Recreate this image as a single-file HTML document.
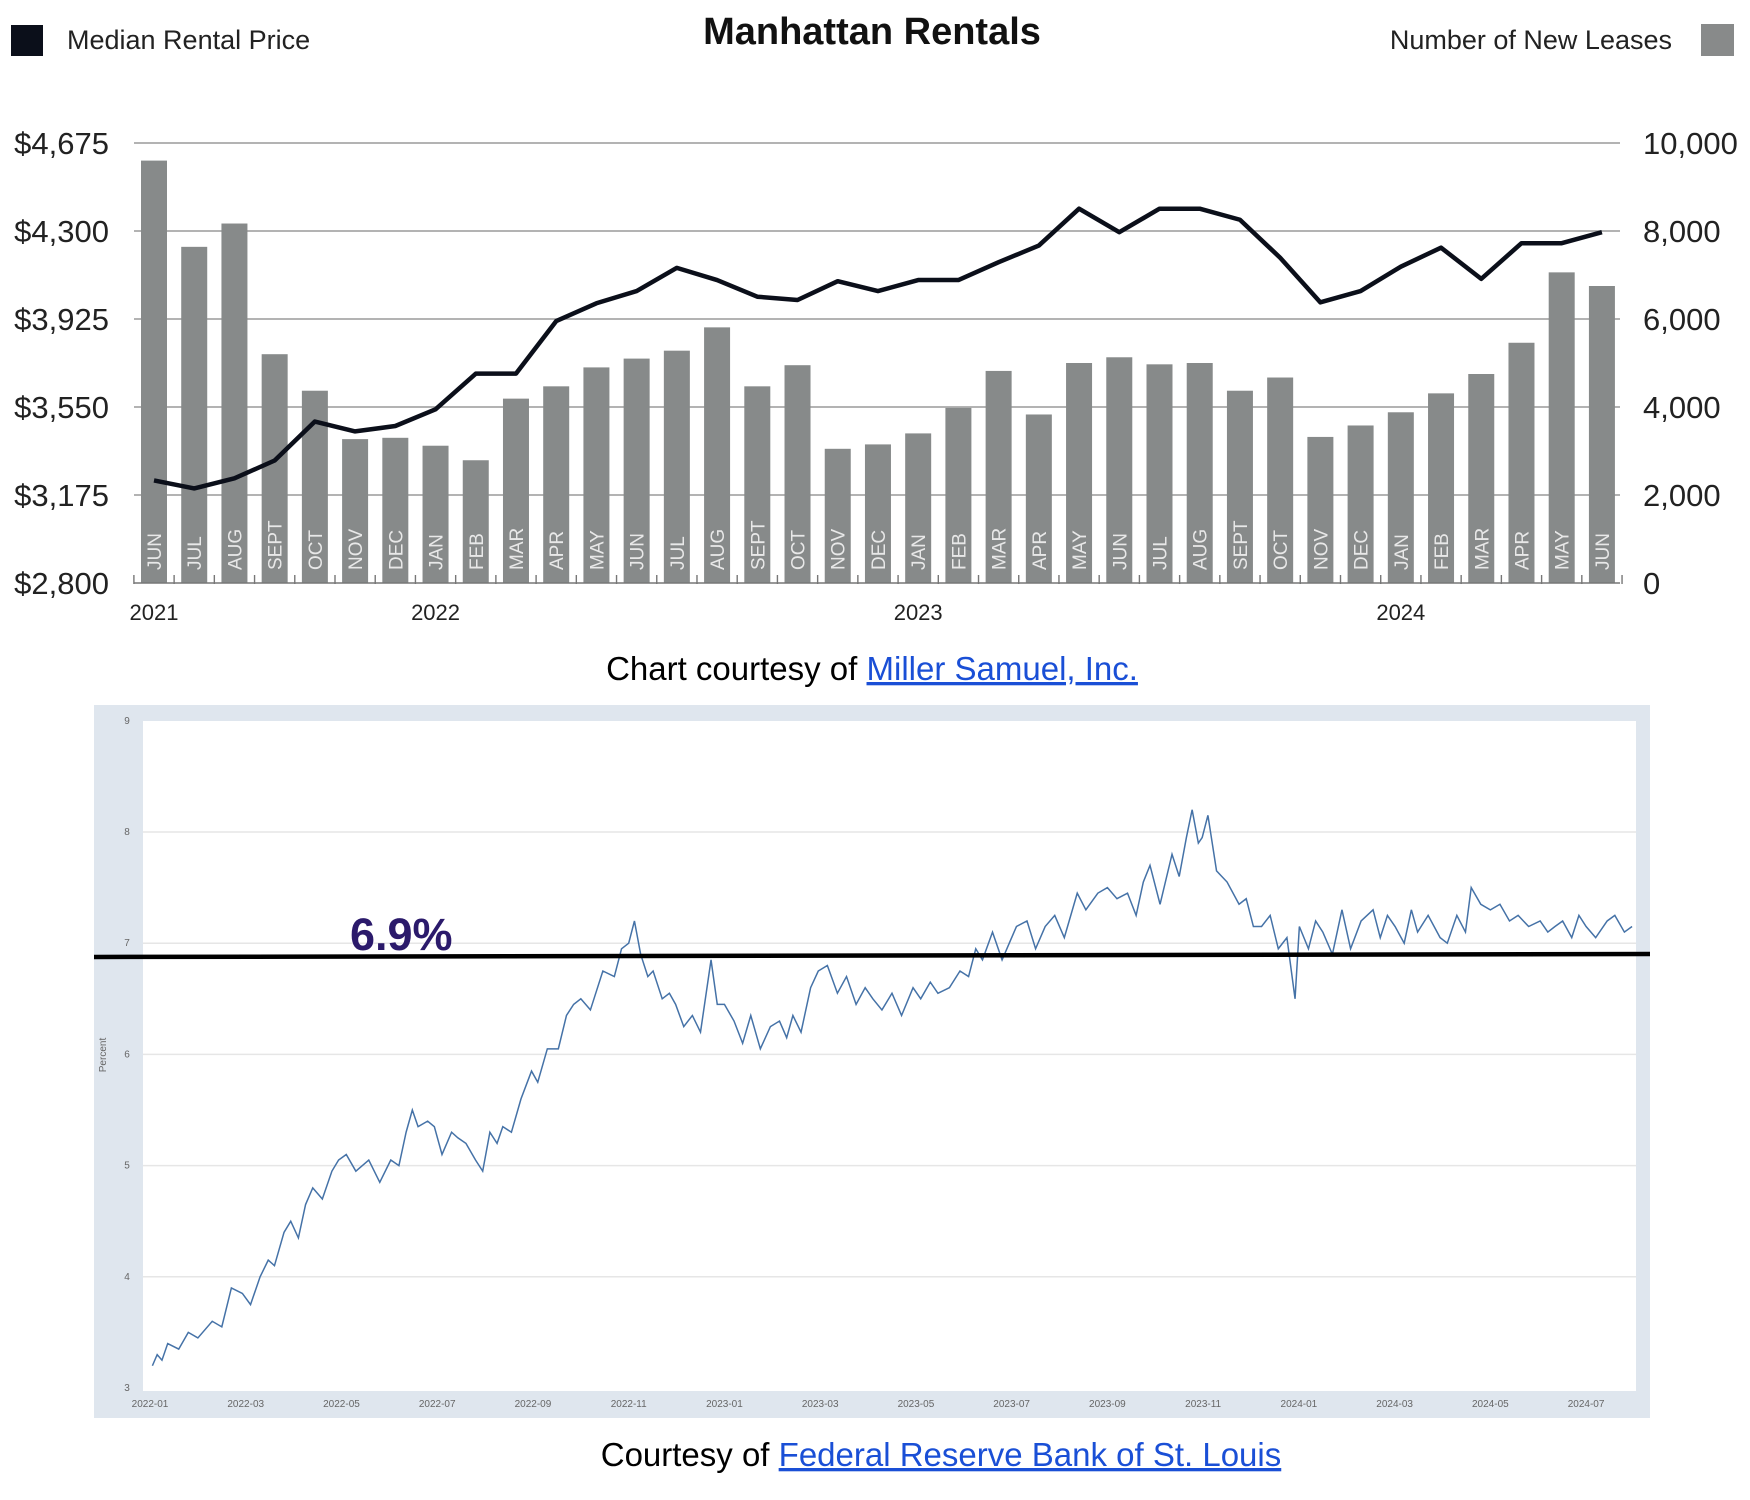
<!DOCTYPE html>
<html><head><meta charset="utf-8"><style>
html,body{margin:0;padding:0;background:#fff;}
svg{display:block;font-family:"Liberation Sans",sans-serif;}
</style></head><body>
<svg id="root" width="1750" height="1500" viewBox="0 0 1750 1500" xmlns="http://www.w3.org/2000/svg">
<g id="top">
  <rect x="11" y="25" width="32" height="31" fill="#0b0f1a"/>
  <text x="67" y="49" font-size="27" fill="#222">Median Rental Price</text>
  <text x="872" y="44" font-size="38" font-weight="bold" text-anchor="middle" fill="#111">Manhattan Rentals</text>
  <text x="1672" y="49" font-size="27" fill="#222" text-anchor="end">Number of New Leases</text>
  <rect x="1701" y="24" width="33" height="32" fill="#888a8a"/>
  <g id="topGrid"></g>
  <g id="bars"></g>
  <g id="line"></g>
  <g id="axisT"></g>
</g>
<text x="872" y="680" font-size="33" text-anchor="middle" fill="#000">Chart courtesy of <tspan fill="#1a4fd6" text-decoration="underline">Miller Samuel, Inc.</tspan></text>
<g id="bottom">
  <rect x="94" y="705" width="1556" height="713" fill="#dfe6ee"/>
  <rect x="143" y="721" width="1493" height="670" fill="#fff"/>
  <g id="botGrid"></g>
  <g id="rate"></g>
  <text transform="translate(106,1055) rotate(-90)" font-size="10" fill="#666" text-anchor="middle">Percent</text>
  <line x1="94" y1="957" x2="1650" y2="954" stroke="#000" stroke-width="4.5"/>
  <text x="350" y="950" font-size="45" font-weight="bold" fill="#2b1a6b">6.9%</text>
</g>
<text x="941" y="1466" font-size="33" text-anchor="middle" fill="#000">Courtesy of <tspan fill="#1a4fd6" text-decoration="underline">Federal Reserve Bank of St. Louis</tspan></text>
</svg>
<script>
const months = ["JUN","JUL","AUG","SEPT","OCT","NOV","DEC","JAN","FEB","MAR","APR","MAY","JUN","JUL","AUG","SEPT","OCT","NOV","DEC","JAN","FEB","MAR","APR","MAY","JUN","JUL","AUG","SEPT","OCT","NOV","DEC","JAN","FEB","MAR","APR","MAY","JUN"];
const leases = [9600,7640,8170,5200,4370,3270,3300,3120,2790,4190,4470,4900,5100,5280,5810,4470,4950,3050,3150,3400,3980,4820,3830,5000,5130,4970,5000,4370,4670,3320,3580,3880,4310,4750,5460,7060,6750];
const prices = [3237,3203,3246,3322,3488,3446,3469,3540,3692,3692,3916,3992,4044,4143,4091,4020,4006,4086,4044,4091,4091,4167,4238,4395,4295,4395,4395,4348,4186,3996,4044,4148,4229,4096,4248,4248,4295];
const priceTicks = ["$2,800","$3,175","$3,550","$3,925","$4,300","$4,675"];
const leaseTicks = ["0","2,000","4,000","6,000","8,000","10,000"];
const years = [["2021",0],["2022",7],["2023",19],["2024",31]];

const rateMonths = [0.05,0.15,0.25,0.37,0.6,0.8,1.0,1.3,1.5,1.7,1.93,2.1,2.3,2.47,2.6,2.8,2.94,3.1,3.25,3.4,3.6,3.8,3.94,4.1,4.3,4.57,4.8,5.03,5.2,5.35,5.48,5.6,5.8,5.94,6.1,6.3,6.43,6.6,6.8,6.95,7.1,7.25,7.37,7.55,7.75,7.97,8.1,8.3,8.53,8.7,8.85,9.0,9.2,9.46,9.7,9.85,10.0,10.12,10.25,10.4,10.51,10.7,10.85,10.98,11.15,11.33,11.5,11.72,11.85,12.0,12.2,12.38,12.55,12.75,12.96,13.15,13.3,13.43,13.6,13.8,13.96,14.15,14.36,14.55,14.75,14.94,15.1,15.29,15.5,15.7,15.94,16.1,16.3,16.46,16.7,16.92,17.1,17.25,17.39,17.6,17.8,17.95,18.1,18.32,18.5,18.7,18.9,19.1,19.37,19.55,19.8,20.0,20.2,20.42,20.6,20.75,20.89,21.1,21.35,21.5,21.65,21.77,21.9,21.98,22.1,22.28,22.5,22.75,22.9,23.05,23.22,23.4,23.57,23.75,23.92,24.01,24.2,24.35,24.5,24.7,24.9,25.08,25.3,25.55,25.7,25.85,26.01,26.2,26.35,26.48,26.7,26.95,27.1,27.3,27.48,27.6,27.8,28.0,28.2,28.4,28.58,28.8,29.04,29.2,29.35,29.51,29.7,29.85,30.0,30.2,30.44,30.6,30.8,30.96];
const rateValues = [3.2,3.3,3.25,3.4,3.35,3.5,3.45,3.6,3.55,3.9,3.85,3.75,4.0,4.15,4.1,4.4,4.5,4.35,4.65,4.8,4.7,4.95,5.05,5.1,4.95,5.05,4.85,5.05,5.0,5.3,5.5,5.35,5.4,5.35,5.1,5.3,5.25,5.2,5.05,4.95,5.3,5.2,5.35,5.3,5.6,5.85,5.75,6.05,6.05,6.35,6.45,6.5,6.4,6.75,6.7,6.95,7.0,7.2,6.9,6.7,6.75,6.5,6.55,6.45,6.25,6.35,6.2,6.85,6.45,6.45,6.3,6.1,6.35,6.05,6.25,6.3,6.15,6.35,6.2,6.6,6.75,6.8,6.55,6.7,6.45,6.6,6.5,6.4,6.55,6.35,6.6,6.5,6.65,6.55,6.6,6.75,6.7,6.95,6.85,7.1,6.85,7.0,7.15,7.2,6.95,7.15,7.25,7.05,7.45,7.3,7.45,7.5,7.4,7.45,7.25,7.55,7.7,7.35,7.8,7.6,7.95,8.2,7.9,7.95,8.15,7.65,7.55,7.35,7.4,7.15,7.15,7.25,6.95,7.05,6.5,7.15,6.95,7.2,7.1,6.9,7.3,6.95,7.2,7.3,7.05,7.25,7.15,7.0,7.3,7.1,7.25,7.05,7.0,7.25,7.1,7.5,7.35,7.3,7.35,7.2,7.25,7.15,7.2,7.1,7.15,7.2,7.05,7.25,7.15,7.05,7.2,7.25,7.1,7.15,7.2,7.15,6.95];
const rateTicks = ["3","4","5","6","7","8","9"];
const dateTicks = ["2022-01","2022-03","2022-05","2022-07","2022-09","2022-11","2023-01","2023-03","2023-05","2023-07","2023-09","2023-11","2024-01","2024-03","2024-05","2024-07"];

const NS="http://www.w3.org/2000/svg";
function mk(tag,attrs,parent,txt){const e=document.createElementNS(NS,tag);for(const k in attrs)e.setAttribute(k,attrs[k]);if(txt!==undefined)e.textContent=txt;parent.appendChild(e);return e;}
const X0=134,X1=1620,YB=583,YT=143;
const xc=i=>154+i*40.22;
const yPrice=v=>YB-(v-2800)/(4675-2800)*(YB-YT);
const yLease=v=>YB-v/10000*(YB-YT);

const tg=document.getElementById('topGrid');
priceTicks.forEach((t,i)=>{
  const y=YB-i*(YB-YT)/5;
  if(i>0){const l=mk('line',{x1:X0,x2:X1,y1:y,y2:y,stroke:'#9a9a9a','stroke-width':1.6},tg);
  
  }
  const a=mk('text',{x:109,y:y+11,'font-size':31,'text-anchor':'end',fill:'#222'},tg,t);
  
  
  const b=mk('text',{x:1643,y:y+11,'font-size':31,fill:'#222'},tg,leaseTicks[i]);
  
  
});
const bg=document.getElementById('bars');
leases.forEach((v,i)=>{
  const r=mk('rect',{x:xc(i)-13,y:yLease(v),width:26,height:YB-yLease(v),fill:'#878a8a'},bg);
  
  
  const t=mk('text',{transform:`translate(${xc(i)+7},570) rotate(-90)`,'font-size':19,fill:'#e8e8e8'},bg,months[i]);
  
  
});
const lg=document.getElementById('line');
const pl=mk('polyline',{points:prices.map((v,i)=>xc(i)+','+yPrice(v)).join(' '),fill:'none',stroke:'#0b0f1a','stroke-width':4.5,'stroke-linejoin':'round'},lg);


const at=document.getElementById('axisT');
const base=mk('line',{x1:X0,x2:X1,y1:YB,y2:YB,stroke:'#777','stroke-width':1.6},at);


for(let i=0;i<=months.length;i++){
  const x=xc(i)-20.1;
  const tk=mk('line',{x1:x,x2:x,y1:YB-8,y2:YB+1,stroke:'#777','stroke-width':1.4},at);
  
  
}
years.forEach(([y,i])=>{
  const t=mk('text',{x:xc(i),y:620,'font-size':22,'text-anchor':'middle',fill:'#222'},at,y);
  
  
});

const xr=m=>150+m*47.87;
const yr=v=>1388-(v-3)*111.2;
const bgd=document.getElementById('botGrid');
rateTicks.forEach((t,i)=>{
  const y=yr(+t);
  if(i>0&&i<6){const l=mk('line',{x1:143,x2:1636,y1:y,y2:y,stroke:'#e6e6e6','stroke-width':1.5},bgd);
  
  }
  const a=mk('text',{x:127,y:y+3,'font-size':10,'text-anchor':'middle',fill:'#666'},bgd,t);
  
  
});
dateTicks.forEach((d,i)=>{
  const t=mk('text',{x:xr(i*2),y:1407,'font-size':10,'text-anchor':'middle',fill:'#666'},bgd,d);
  
  
});
const rg=document.getElementById('rate');
const rl=mk('polyline',{points:rateMonths.map((m,i)=>xr(m)+','+yr(rateValues[i])).join(' '),fill:'none',stroke:'#4572a7','stroke-width':1.5,'stroke-linejoin':'miter'},rg);


</script>
</body></html>
